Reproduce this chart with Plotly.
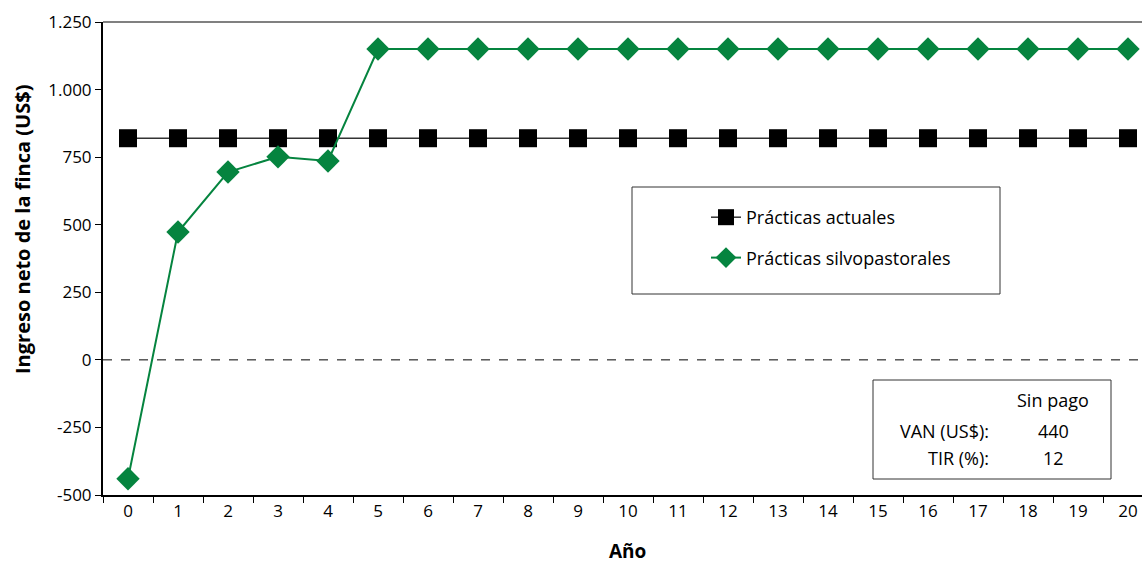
import plotly.graph_objects as go

years = [str(i) for i in range(21)]
actuales = [820] * 21
silvo = [-440, 473, 695, 751, 736] + [1150] * 16
y_tickvals = [1250, 1000, 750, 500, 250, 0, -250, -500]
y_ticktext = ["1.250", "1.000", "750", "500", "250", "0", "-250", "-500"]
table_rows = [("", "Sin pago"), ("VAN (US$):", "440"), ("TIR (%):", "12")]

W, H = 1142, 563
L, R, T = 103, 0, 22
B = H - 495
PW, PH = W - L - R, H - T - B
FONT = "'Open Sans', Lato, sans-serif"

def px(x):
    return (x - L) / PW

def py(y):
    return (H - B - y) / PH

green = "#05843F"

fig = go.Figure()
fig.add_trace(go.Scatter(
    x=years, y=actuales, name="Prácticas actuales", mode="lines+markers",
    line=dict(color="#333333", width=1.5),
    marker=dict(symbol="square", size=18, color="black"),
    legendgroup="a",
))
fig.add_trace(go.Scatter(
    x=years, y=silvo, name="Prácticas silvopastorales", mode="lines+markers",
    line=dict(color=green, width=2),
    marker=dict(symbol="diamond", size=18, color=green),
    legendgroup="b",
))

shapes = [
    dict(type="line", xref="paper", x0=0, x1=1, yref="y", y0=0, y1=0,
         line=dict(color="black", width=1, dash="dash"), layer="below"),
    dict(type="line", xref="paper", x0=0, x1=1, yref="paper", y0=1, y1=1,
         line=dict(color="#808080", width=2)),
    dict(type="rect", xref="paper", yref="paper",
         x0=px(632), x1=px(1000), y0=py(294), y1=py(187),
         line=dict(color="#333333", width=1), fillcolor="white", layer="below"),
    dict(type="rect", xref="paper", yref="paper",
         x0=px(873), x1=px(1111), y0=py(479), y1=py(380),
         line=dict(color="#333333", width=1), fillcolor="white", layer="above"),
]

annotations = [
    dict(text="<b>Ingreso neto de la finca (US$)</b>", xref="paper", yref="paper",
         x=px(22), y=py(230), textangle=-90, showarrow=False,
         font=dict(family=FONT, size=20, color="black"), xanchor="center", yanchor="middle"),
    dict(text="<b>Año</b>", xref="paper", yref="paper",
         x=px(627), y=py(551), showarrow=False,
         font=dict(family=FONT, size=19, color="black"), xanchor="center", yanchor="middle"),
]
row_y = [400, 431, 458]
for (lab, val), yy in zip(table_rows, row_y):
    if lab:
        annotations.append(dict(text=lab, xref="paper", yref="paper", x=px(991), y=py(yy),
                                showarrow=False, xanchor="right", yanchor="middle",
                                font=dict(family=FONT, size=18, color="black")))
    annotations.append(dict(text=val, xref="paper", yref="paper", x=px(1053), y=py(yy),
                            showarrow=False, xanchor="center", yanchor="middle",
                            font=dict(family=FONT, size=18, color="black")))

fig.update_layout(
    width=W, height=H,
    margin=dict(l=L, r=R, t=T, b=B),
    plot_bgcolor="white", paper_bgcolor="white",
    font=dict(family=FONT, size=17, color="black"),
    shapes=shapes, annotations=annotations,
    showlegend=True,
    legend=dict(x=px(706), y=py(199), xanchor="left", yanchor="top",
                bgcolor="rgba(0,0,0,0)", borderwidth=0,
                font=dict(family=FONT, size=18, color="black"),
                traceorder="grouped", tracegroupgap=14),
    xaxis=dict(type="category", range=[-0.5, 20.28], tickson="boundaries",
               showgrid=False, zeroline=False, showline=True, linecolor="black", linewidth=2,
               ticks="outside", ticklen=6, tickcolor="black", tickwidth=1,
               tickfont=dict(family=FONT, size=17, color="black")),
    yaxis=dict(range=[-500, 1250], tickvals=y_tickvals, ticktext=y_ticktext,
               showgrid=False, zeroline=False, showline=True, linecolor="black", linewidth=2,
               ticks="outside", ticklen=6, tickcolor="black", tickwidth=1,
               tickfont=dict(family=FONT, size=17, color="black")),
)

fig.write_html("out.html", config={"displayModeBar": False},
               post_script="document.body.style.margin='0';document.body.style.overflow='hidden';")
